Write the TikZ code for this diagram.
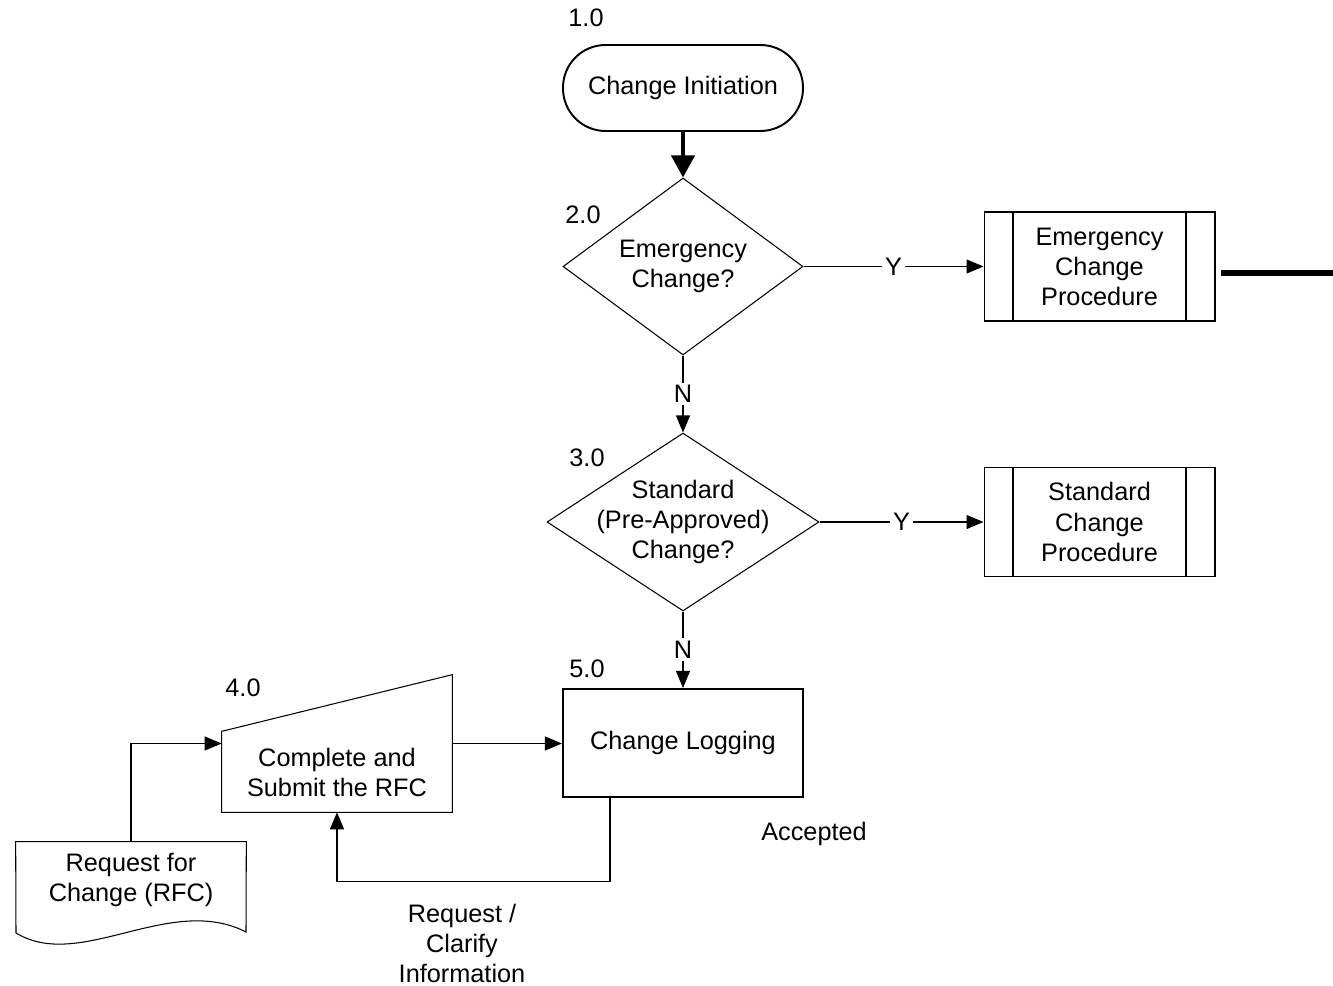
\documentclass[tikz,border=0pt]{standalone}
\usepackage{fontspec}
\setmainfont{Liberation Sans}
\usetikzlibrary{shapes.geometric,arrows.meta}

\begin{document}
\begin{tikzpicture}[x=0.02cm, y=-0.02cm,
    every node/.style={font=\fontsize{14.4}{17.1}\selectfont, align=center},
    terminal/.style={draw, line width=1.1pt, rounded corners=0.85cm, minimum width=4.8cm, minimum height=1.72cm},
    decision/.style={draw, line width=0.6pt, diamond, inner sep=0pt},
    process/.style={draw, line width=1.2pt, minimum width=4.8cm, minimum height=2.16cm},
    predef/.style={draw, line width=0.6pt, minimum width=4.62cm, minimum height=2.18cm, inner sep=0pt,
        path picture={
            \draw[line width=0.6pt] ([xshift=0.58cm]path picture bounding box.north west) -- ([xshift=0.58cm]path picture bounding box.south west);
            \draw[line width=0.6pt] ([xshift=-0.58cm]path picture bounding box.north east) -- ([xshift=-0.58cm]path picture bounding box.south east);}},
    arr/.style={-{Triangle[length=0.34cm, width=0.28cm]}, line width=0.6pt},
    thickarr/.style={-{Triangle[length=0.44cm, width=0.46cm]}, line width=2.3pt},
    yn/.style={fill=white, inner sep=1.5pt}]
    \useasboundingbox (0,0) rectangle (1333,986);

    % Main flow
    \node (n1) at (586,18) {1.0};
    \node[terminal] (init) at (683,88) {Change Initiation};
    \node (n2) at (583,215) {2.0};
    \node[decision, minimum width=4.8cm, minimum height=3.54cm, aspect=1.36] (emerg) at (683,266.5) {Emergency\\Change?};
    \node (n3) at (587,458) {3.0};
    \node[decision, inner sep=-0.14cm, minimum width=5.44cm, minimum height=3.56cm, aspect=1.528] (std) at (683,522) {Standard\\(Pre-Approved)\\Change?};
    \node (n5) at (587,669) {5.0};
    \node[process] (log) at (683,743) {Change Logging};

    % Procedures
    \node[predef] (ep) at (1099.5,266.5) {Emergency\\Change\\Procedure};
    \node[predef] (sp) at (1099.5,522) {Standard\\Change\\Procedure};
    \coordinate (exitA) at (1221,273);
    \coordinate (exitB) at (1333,273);

    % RFC form and document
    \node (n4) at (243,688) {4.0};
    \node[minimum width=4.6cm, minimum height=2.74cm] (sub) at (337,743.5) {};
    \draw[line width=0.6pt] (sub.south west) -- ++(0,-81) -- (sub.north east) -- (sub.south east) -- cycle;
    \node (subtext) at (337,772) {Complete and\\Submit the RFC};
    \node[minimum width=4.6cm, minimum height=1.52cm] (rfc) at (131,880) {Request for\\Change (RFC)};
    \draw[line width=0.6pt] (rfc.north west) -- (rfc.north east) -- (246,932)
        .. controls (170,893) and (80,972) .. (16,933) -- cycle;

    % Free labels
    \node (accepted) at (814,834) {Accepted};
    \node (clarify) at (462,943) {Request /\\Clarify\\Information};

    % Connectors
    \draw[thickarr] (init) -- (emerg);
    \draw[arr] (emerg) -- node[yn] {Y} (ep);
    \draw[arr] (emerg) -- node[yn] {N} (std);
    \draw[arr] (std) -- node[yn] {Y} (sp);
    \draw[arr] (std) -- node[yn] {N} (log);
    \draw[arr] (sub.east) -- (sub.east -| log.west);
    \draw[arr] (rfc.north) |- (sub.west);
    \draw[arr] ([xshift=-1.46cm]log.south) -- ++(0,83) -| (sub.south);
    \draw[line width=3.4pt] (exitA) -- (exitB);
\end{tikzpicture}
\end{document}
